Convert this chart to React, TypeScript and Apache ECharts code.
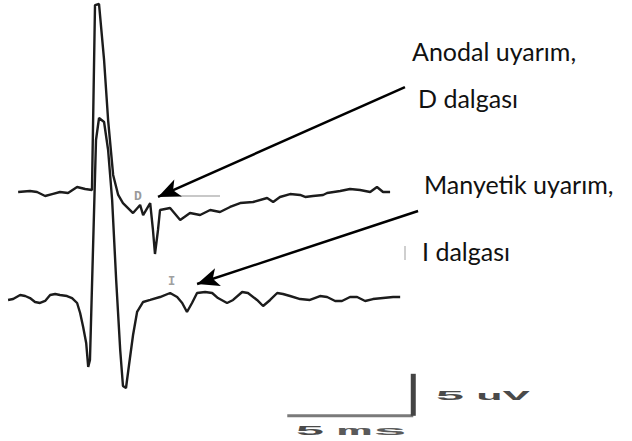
import React, { useEffect, useRef } from "react";
import * as echarts from "echarts";

// time (ms) and amplitude (µV, with trace offsets)
const anodalTime = [0.32,0.79,1.07,1.39,1.67,1.98,2.30,2.66,2.98,3.25,3.37,3.53,3.73,3.89,4.09,4.29,4.48,4.88,5.16,5.28,5.56,5.67,5.75,5.87,5.95,6.35,6.75,7.14,7.54,7.94,8.33,8.73,9.13,9.64,10.20,10.44,10.71,11.11,11.51,11.71,12.02,12.42,12.58,13.10,13.49,13.89,14.29,14.56,14.80,15.08];
const anodalValue = [29.64,29.76,29.64,29.17,29.40,29.64,29.52,30.24,30.00,29.88,51.90,52.02,45.36,38.21,31.67,29.29,28.33,27.14,28.10,26.90,28.33,25.12,22.26,25.12,27.50,27.74,26.31,27.14,26.90,27.50,27.26,27.86,28.33,28.45,28.93,28.45,29.05,29.40,29.29,29.05,29.17,29.29,29.52,29.76,30.00,29.88,29.64,30.24,29.64,29.64];

const magTime = [-0.08,0.12,0.40,0.60,0.79,0.99,1.19,1.39,1.59,1.79,1.98,2.26,2.46,2.66,2.78,2.90,3.02,3.10,3.17,3.29,3.41,3.53,3.73,3.89,4.05,4.21,4.37,4.48,4.60,4.72,4.88,5.04,5.28,5.56,5.95,6.35,6.63,6.83,7.02,7.22,7.42,7.74,8.02,8.25,8.61,8.85,9.21,9.44,9.80,10.04,10.32,10.60,10.83,11.11,11.51,11.90,12.30,12.58,12.90,13.17,13.49,13.77,14.09,14.40,14.80,15.20,15.48];
const magValue = [16.79,16.90,17.38,17.26,17.02,16.55,16.43,16.67,17.38,17.50,17.38,17.26,17.02,16.43,15.24,13.57,11.67,8.81,9.64,22.74,35.83,38.45,37.98,34.64,28.69,19.17,10.83,6.55,6.31,9.05,12.62,15.36,16.55,16.79,17.14,17.62,17.14,16.43,15.36,16.43,17.62,17.74,17.62,17.02,16.43,16.79,17.74,17.62,16.79,16.07,16.79,17.62,17.50,17.26,16.90,16.79,17.26,17.14,16.67,16.67,17.14,17.14,16.67,16.90,17.02,17.14,17.14];

// scale bar: 5 ms horizontal, 5 µV vertical
const scaleBarTime = [11, 16];
const scaleBarVolt = [3, 8];

// arrows: [startTime, startVolt, endTime, endVolt]
const arrowD = [15.67, 42.14, 5.87, 29.05];
const arrowI = [16.19, 27.38, 7.42, 18.69];

const labels = ["Anodal uyarım,", "D dalgası", "Manyetik uyarım,", "I dalgası"];
const scaleLabels = ["5", "ms", "5", "uV"];

function zip(a: number[], b: number[]) {
  return a.map((v, i) => [v, b[i]]);
}

export default function App() {
  const ref = useRef<HTMLDivElement>(null);
  useEffect(() => {
    if (!ref.current) return;
    const chart = echarts.init(ref.current, null, { renderer: "svg" });
    const traceStyle = { color: "#1c1c1c", width: 2.4 };
    const textFont = "Lato, 'Open Sans', sans-serif";
    const monoFont = "'Liberation Mono', 'DejaVu Sans Mono', monospace";
    const mono = (text: string, x: number, y: number, sx: number, fill: string) => ({
      type: "text",
      x,
      y,
      scaleX: sx,
      scaleY: 0.9,
      style: { text, font: `bold 14px ${monoFont}`, fill, verticalAlign: "middle" },
    });
    chart.setOption({
      animation: false,
      backgroundColor: "#ffffff",
      grid: { left: 0, right: 0, top: 0, bottom: 0 },
      xAxis: { type: "value", min: -0.4, max: 24.68, show: false },
      yAxis: { type: "value", min: 0, max: 52.5, show: false },
      series: [
        {
          type: "line",
          name: "Anodal",
          data: zip(anodalTime, anodalValue),
          showSymbol: false,
          lineStyle: traceStyle,
          silent: true,
          markLine: {
            silent: true,
            symbol: ["none", "arrow"],
            symbolSize: [14, 22],
            label: { show: false },
            lineStyle: { color: "#000", width: 2.5, type: "solid" },
            data: [
              [
                { coord: [arrowD[0], arrowD[1]] },
                { coord: [arrowD[2], arrowD[3]] },
              ],
              [
                { coord: [arrowI[0], arrowI[1]] },
                { coord: [arrowI[2], arrowI[3]] },
              ],
            ],
          },
        },
        {
          type: "line",
          name: "Manyetik",
          data: zip(magTime, magValue),
          showSymbol: false,
          lineStyle: traceStyle,
          silent: true,
        },
        {
          type: "line",
          name: "scaleH",
          data: [
            [scaleBarTime[0], scaleBarVolt[0]],
            [scaleBarTime[1], scaleBarVolt[0]],
          ],
          showSymbol: false,
          lineStyle: { color: "#7a7a7a", width: 3 },
          silent: true,
        },
        {
          type: "line",
          name: "scaleV",
          data: [
            [scaleBarTime[1], scaleBarVolt[0]],
            [scaleBarTime[1], scaleBarVolt[1]],
          ],
          showSymbol: false,
          lineStyle: { color: "#444", width: 5 },
          silent: true,
        },
      ],
      graphic: [
        { type: "text", x: 412, y: 51, style: { text: labels[0], font: `25px ${textFont}`, fill: "#111", verticalAlign: "middle" } },
        { type: "text", x: 418, y: 98, style: { text: labels[1], font: `25px ${textFont}`, fill: "#111", verticalAlign: "middle" } },
        { type: "text", x: 424, y: 184, style: { text: labels[2], font: `25px ${textFont}`, fill: "#111", verticalAlign: "middle" } },
        { type: "text", x: 422, y: 251, style: { text: labels[3], font: `25px ${textFont}`, fill: "#111", verticalAlign: "middle" } },
        { type: "rect", shape: { x: 404, y: 246, width: 2, height: 14 }, style: { fill: "#cfcfcf" } },
        mono(scaleLabels[0], 295, 432, 3.6, "#4a4a4a"),
        mono(scaleLabels[1], 337, 432, 4.2, "#5a5a5a"),
        mono(scaleLabels[2], 435, 397, 3.6, "#4a4a4a"),
        mono(scaleLabels[3], 476, 397, 3.2, "#4a4a4a"),
        { type: "text", x: 134, y: 196, style: { text: "D", font: `bold 13px ${monoFont}`, fill: "#9a9a9a", verticalAlign: "middle" } },
        { type: "rect", shape: { x: 180, y: 195, width: 40, height: 2 }, style: { fill: "#c8c8c8" } },
        { type: "text", x: 168, y: 282, style: { text: "I", font: `bold 12px ${monoFont}`, fill: "#a0a0a0", verticalAlign: "middle" } },
      ],
    });
    return () => chart.dispose();
  }, []);
  return (
    <div
      ref={ref}
      style={{ position: "absolute", left: 0, top: 0, width: 632, height: 441, background: "#fff" }}
    />
  );
}
